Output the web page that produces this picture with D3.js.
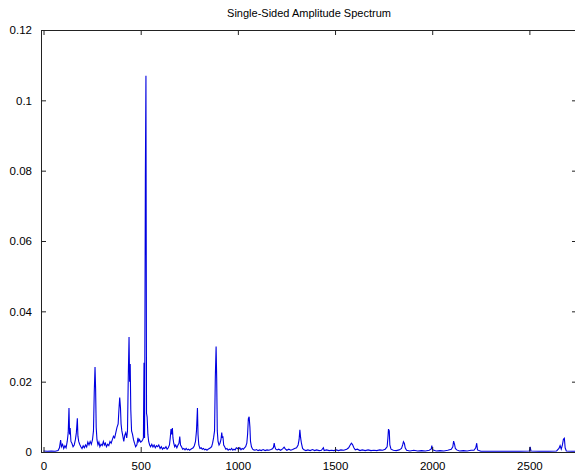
<!DOCTYPE html>
<html>
<head>
<meta charset="utf-8">
<script src="https://cdn.jsdelivr.net/npm/d3@7"></script>
<style>
  body { margin: 0; background: #fff; }
  svg { display: block; font-family: "Liberation Sans", Arial, sans-serif; }
  .tick text { font-size: 11.5px; fill: #000; }
</style>
</head>
<body>
<svg id="chart"></svg>
<script>
// spectrum, [frequency, amplitude]
const lowBand = [
  [0, 0.0003], [20, 0.0002], [40, 0.0003], [60, 0.0002], [75, 0.0004], [82, 0.0012], [88, 0.0034],
  [92, 0.0015], [98, 0.0022], [104, 0.0010], [110, 0.0018], [116, 0.0012], [122, 0.0030],
  [127, 0.0055], [131, 0.0125], [134, 0.0050], [137, 0.0068], [141, 0.0030], [146, 0.0025],
  [152, 0.0015], [158, 0.0020], [164, 0.0035], [169, 0.0055], [174, 0.0096], [177, 0.0045],
  [181, 0.0030], [186, 0.0022], [192, 0.0015], [198, 0.0010], [204, 0.0018], [210, 0.0012],
  [216, 0.0020], [222, 0.0014], [228, 0.0028], [234, 0.0020], [240, 0.0030], [246, 0.0022],
  [252, 0.0035], [257, 0.0060], [261, 0.0170], [265, 0.0242], [268, 0.0180], [271, 0.0070],
  [275, 0.0035], [280, 0.0020], [285, 0.0028], [290, 0.0015], [296, 0.0022], [302, 0.0018],
  [308, 0.0030], [313, 0.0020], [318, 0.0025], [324, 0.0015], [330, 0.0022], [336, 0.0018],
  [342, 0.0030], [348, 0.0025], [354, 0.0035], [360, 0.0045], [366, 0.0040], [372, 0.0055],
  [378, 0.0070], [384, 0.0080], [388, 0.0120], [392, 0.0155], [396, 0.0125], [399, 0.0080],
  [403, 0.0060], [408, 0.0045], [413, 0.0030], [418, 0.0048], [423, 0.0055], [428, 0.0040],
  [432, 0.0060], [436, 0.0210], [440, 0.0327], [443, 0.0200], [446, 0.0250], [449, 0.0120],
  [453, 0.0060], [458, 0.0050], [463, 0.0035], [468, 0.0025], [474, 0.0015], [480, 0.0020],
  [486, 0.0040], [490, 0.0030], [494, 0.0035], [500, 0.0028], [505, 0.0030], [510, 0.0035],
  [514, 0.0040], [517, 0.0254], [520, 0.0040], [524, 0.0780], [527, 0.1070], [530, 0.0110],
  [533, 0.0100], [537, 0.0050], [541, 0.0030], [546, 0.0020], [551, 0.0015], [557, 0.0022],
  [563, 0.0014], [569, 0.0020], [575, 0.0012], [581, 0.0018], [587, 0.0015], [593, 0.0020],
  [600, 0.0010], [606, 0.0015], [612, 0.0008], [618, 0.0012], [624, 0.0010], [630, 0.0015],
  [636, 0.0008], [642, 0.0012], [648, 0.0020], [652, 0.0040], [656, 0.0065], [660, 0.0050],
  [663, 0.0068], [666, 0.0040], [670, 0.0025], [675, 0.0015], [680, 0.0020], [686, 0.0012],
  [692, 0.0020], [697, 0.0025], [701, 0.0044], [705, 0.0020], [710, 0.0015], [716, 0.0008],
  [722, 0.0010], [728, 0.0006], [734, 0.0010], [740, 0.0006], [746, 0.0008], [752, 0.0005],
  [758, 0.0008], [764, 0.0010], [770, 0.0012], [776, 0.0018], [782, 0.0030], [787, 0.0060],
  [792, 0.0125], [795, 0.0050], [799, 0.0020]
];

const midBand = [
  [805, 0.0010], [811, 0.0012], [817, 0.0008], [823, 0.0010], [829, 0.0006], [835, 0.0008],
  [841, 0.0005], [847, 0.0008], [853, 0.0010], [859, 0.0012], [865, 0.0015], [870, 0.0025],
  [875, 0.0040], [880, 0.0060], [884, 0.0214], [888, 0.0300], [891, 0.0210], [894, 0.0060],
  [898, 0.0030], [903, 0.0020], [908, 0.0025], [913, 0.0035], [917, 0.0055], [920, 0.0040],
  [923, 0.0045], [927, 0.0020], [932, 0.0015], [938, 0.0008], [944, 0.0010], [950, 0.0005],
  [956, 0.0008], [962, 0.0006], [968, 0.0010], [974, 0.0005], [980, 0.0008], [986, 0.0006],
  [992, 0.0012], [998, 0.0010], [1004, 0.0008], [1010, 0.0012], [1016, 0.0006], [1022, 0.0010],
  [1028, 0.0008], [1034, 0.0012], [1040, 0.0015], [1046, 0.0025], [1050, 0.0050], [1054, 0.0095],
  [1058, 0.0100], [1062, 0.0070], [1065, 0.0030], [1070, 0.0015], [1076, 0.0008], [1082, 0.0006],
  [1088, 0.0005], [1096, 0.0007], [1104, 0.0004], [1112, 0.0006], [1120, 0.0004], [1130, 0.0007],
  [1140, 0.0004], [1150, 0.0006], [1160, 0.0005], [1170, 0.0007], [1178, 0.0009], [1183, 0.0013],
  [1187, 0.0025], [1190, 0.0015], [1195, 0.0008], [1202, 0.0006], [1210, 0.0008], [1220, 0.0005],
  [1230, 0.0009], [1238, 0.0014], [1244, 0.0009], [1252, 0.0005], [1262, 0.0008], [1272, 0.0005],
  [1282, 0.0007], [1292, 0.0010], [1302, 0.0012], [1310, 0.0020], [1315, 0.0035], [1319, 0.0063],
  [1323, 0.0040], [1327, 0.0025], [1333, 0.0010], [1340, 0.0006], [1350, 0.0004], [1360, 0.0006],
  [1372, 0.0004], [1384, 0.0007], [1395, 0.0004], [1405, 0.0006], [1418, 0.0004], [1430, 0.0005],
  [1440, 0.0012], [1444, 0.0004], [1456, 0.0006], [1470, 0.0004], [1482, 0.0005], [1494, 0.0004],
  [1506, 0.0006], [1518, 0.0004], [1530, 0.0006], [1545, 0.0005], [1560, 0.0008], [1570, 0.0012],
  [1578, 0.0020], [1584, 0.0025], [1590, 0.0021], [1597, 0.0012], [1604, 0.0006]
];

const highBand = [
  [1615, 0.0008], [1628, 0.0004], [1640, 0.0006], [1655, 0.0004], [1670, 0.0006], [1685, 0.0004],
  [1700, 0.0005], [1715, 0.0004], [1730, 0.0006], [1745, 0.0005], [1758, 0.0008], [1768, 0.0015],
  [1772, 0.0040], [1775, 0.0065], [1779, 0.0060], [1782, 0.0020], [1788, 0.0008], [1800, 0.0005],
  [1815, 0.0004], [1830, 0.0006], [1842, 0.0010], [1848, 0.0020], [1852, 0.0029], [1857, 0.0024],
  [1861, 0.0012], [1868, 0.0005], [1885, 0.0003], [1905, 0.0005], [1925, 0.0003], [1945, 0.0004],
  [1965, 0.0003], [1985, 0.0005], [1995, 0.0009], [1998, 0.0018], [2002, 0.0006], [2020, 0.0003],
  [2040, 0.0004], [2060, 0.0003], [2080, 0.0005], [2098, 0.0008], [2106, 0.0015], [2110, 0.0031],
  [2115, 0.0022], [2119, 0.0010], [2126, 0.0006], [2140, 0.0003], [2160, 0.0004], [2180, 0.0003],
  [2200, 0.0005], [2215, 0.0005], [2224, 0.0012], [2229, 0.0025], [2233, 0.0006], [2250, 0.0002],
  [2300, 0.0002], [2350, 0.0002], [2400, 0.0002], [2450, 0.0002], [2500, 0.0003], [2504, 0.0015],
  [2508, 0.0003], [2550, 0.0002], [2600, 0.0002], [2640, 0.0003], [2652, 0.0010], [2658, 0.0018],
  [2664, 0.0008], [2670, 0.0020], [2675, 0.0036], [2680, 0.0039], [2684, 0.0012], [2690, 0.0003],
  [2720, 0.0002], [2745, 0.0002]
];

const xTicks = [0, 500, 1000, 1500, 2000, 2500];
const yTicks = [0, 0.02, 0.04, 0.06, 0.08, 0.1, 0.12];
const title = "Single-Sided Amplitude Spectrum";

const width = 575, height = 473;
const margin = { top: 30, right: -2, bottom: 21, left: 41 };
const innerW = width - margin.left - margin.right;
const innerH = height - margin.top - margin.bottom;

const svg = d3.select("#chart").attr("width", width).attr("height", height);

const x = d3.scaleLinear().domain([-13, 2745]).range([0, innerW]);
const y = d3.scaleLinear().domain([0, 0.12]).range([innerH, 0]);

const g = svg.append("g").attr("transform", `translate(${margin.left},${margin.top})`);

g.append("clipPath").attr("id", "clip")
  .append("rect").attr("width", innerW).attr("height", innerH);

const spectrum = lowBand.concat(midBand, highBand);

g.append("path")
  .datum(spectrum)
  .attr("clip-path", "url(#clip)")
  .attr("fill", "none")
  .attr("stroke", "#0000e0")
  .attr("stroke-width", 1.1)
  .attr("d", d3.line().x(d => x(d[0])).y(d => y(d[1])));

// matlab style box with inward ticks
const fmt = d => String(+d.toFixed(2));

g.append("g")
  .attr("transform", `translate(0,${innerH})`)
  .call(d3.axisBottom(x).tickValues(xTicks).tickSize(-5).tickPadding(10).tickFormat(d3.format("d")));

g.append("g")
  .call(d3.axisTop(x).tickValues(xTicks).tickSize(-5).tickFormat(""));

g.append("g")
  .call(d3.axisLeft(y).tickValues(yTicks).tickSize(-5).tickPadding(9).tickFormat(fmt));

g.append("g")
  .attr("transform", `translate(${innerW},0)`)
  .call(d3.axisRight(y).tickValues(yTicks).tickSize(-5).tickFormat(""));

g.selectAll(".domain").attr("stroke", "#222");
g.selectAll(".tick line").attr("stroke", "#222");

svg.append("text")
  .attr("x", margin.left + innerW / 2)
  .attr("y", 17)
  .attr("text-anchor", "middle")
  .attr("font-size", 11)
  .text(title);
</script>
</body>
</html>
